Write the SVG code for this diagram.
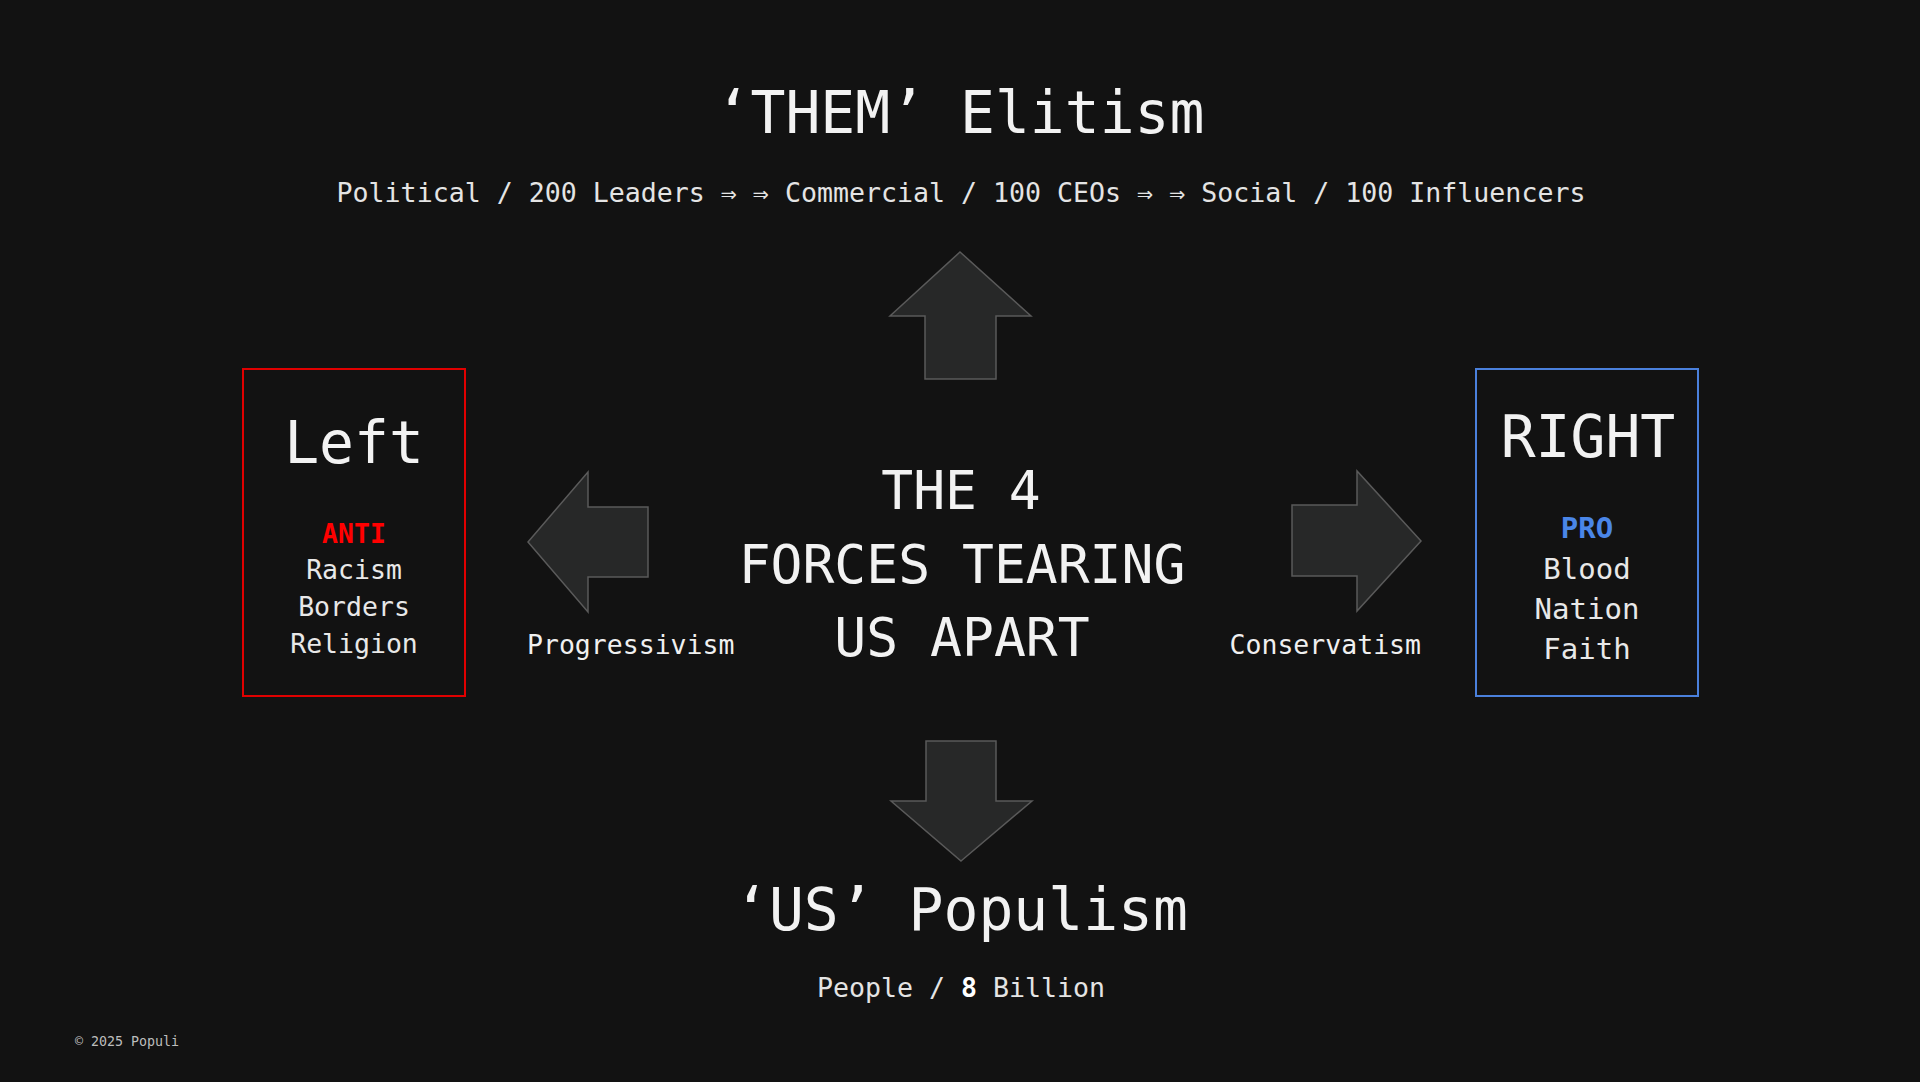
<svg xmlns="http://www.w3.org/2000/svg" width="1920" height="1082" viewBox="0 0 1920 1082">
<style>
text{font-family:"DejaVu Sans Mono","Liberation Mono",monospace;fill:#f2f2f2;}
.title{font-size:58px;text-anchor:middle;}
.sub{font-size:26.6px;text-anchor:middle;fill:#e4e4e4;}
.center{font-size:53px;text-anchor:middle;}
.lbl{font-size:26.5px;fill:#f0f0f0;}
.litem{font-size:26.5px;text-anchor:middle;fill:#e8e8e8;}
.ritem{font-size:29px;text-anchor:middle;fill:#e8e8e8;}
.arrow{fill:#272828;stroke:#5a5a5a;stroke-width:1.5;}
.copy{font-size:13.3px;fill:#bdbdbd;}
</style>
<rect width="1920" height="1082" fill="#121212"/>

<g id="connectors">
  <polygon class="arrow" points="960,252 1031,316 996,316 996,379 925,379 925,316 890,316"/>
  <polygon class="arrow" points="961,861 1032,801 996,801 996,741 926,741 926,801 891,801"/>
  <polygon class="arrow" points="528,542 588,472 588,507 648,507 648,577 588,577 588,612"/>
  <polygon class="arrow" points="1421,541 1357,471 1357,505 1292,505 1292,576 1357,576 1357,611"/>
</g>

<g id="top-elitism">
  <text class="title" x="960" y="133">‘THEM’ Elitism</text>
  <text class="sub" x="961" y="202">Political / 200 Leaders ⇒ ⇒ Commercial / 100 CEOs ⇒ ⇒ Social / 100 Influencers</text>
</g>

<g id="center-title">
  <text class="center" x="961" y="509">THE 4</text>
  <text class="center" x="962" y="583">FORCES TEARING</text>
  <text class="center" x="962" y="656">US APART</text>
</g>

<g id="left-box">
  <rect x="243" y="369" width="222" height="327" fill="none" stroke="#e00000" stroke-width="2"/>
  <text class="title" x="354" y="463">Left</text>
  <text class="litem" x="354" y="543" style="fill:#ff0000;font-weight:bold;">ANTI</text>
  <text class="litem" x="354" y="579">Racism</text>
  <text class="litem" x="354" y="616">Borders</text>
  <text class="litem" x="354" y="653">Religion</text>
</g>

<g id="right-box">
  <rect x="1476" y="369" width="222" height="327" fill="none" stroke="#4a80dc" stroke-width="2"/>
  <text class="title" x="1588" y="457">RIGHT</text>
  <text class="ritem" x="1587" y="538" style="fill:#4a86e8;font-weight:bold;">PRO</text>
  <text class="ritem" x="1587" y="579">Blood</text>
  <text class="ritem" x="1587" y="619">Nation</text>
  <text class="ritem" x="1587" y="659">Faith</text>
</g>

<g id="label-progressivism">
  <text class="lbl" x="527" y="654">Progressivism</text>
</g>
<g id="label-conservatism">
  <text class="lbl" x="1421" y="654" text-anchor="end">Conservatism</text>
</g>

<g id="bottom-populism">
  <text class="title" x="961" y="930">‘US’ Populism</text>
  <text class="sub" x="961" y="997">People / <tspan font-weight="bold" fill="#ffffff">8</tspan> Billion</text>
</g>

<g id="copyright">
  <text class="copy" x="75" y="1046">© 2025 Populi</text>
</g>
</svg>
